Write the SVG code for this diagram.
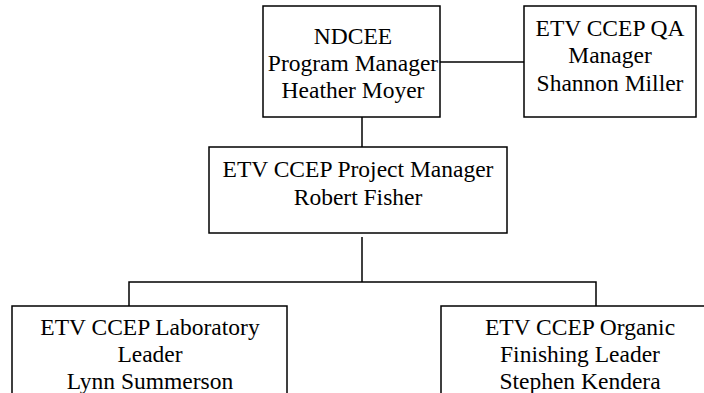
<svg xmlns="http://www.w3.org/2000/svg" width="704" height="393" viewBox="0 0 704 393">
<style>
.box{fill:#fff;stroke:#000;stroke-width:1.5}
.ln{fill:none;stroke:#000;stroke-width:1.5}
text{font-family:"Liberation Serif","Times New Roman",serif;font-size:23.5px;fill:#000;text-anchor:middle}
</style>
<rect width="704" height="393" fill="#fff"/>
<g id="connectors">
<line class="ln" x1="440" y1="62" x2="524" y2="62"/>
<line class="ln" x1="362" y1="117" x2="362" y2="147"/>
<line class="ln" x1="362" y1="237" x2="362" y2="282"/>
<polyline class="ln" points="129,306 129,282 596,282 596,306"/>
</g>
<g id="ndcee">
<rect class="box" x="263" y="6" width="177" height="111"/>
<text x="353" y="44">NDCEE</text>
<text x="353" y="71">Program Manager</text>
<text x="353" y="98">Heather Moyer</text>
</g>
<g id="qa">
<rect class="box" x="524" y="6" width="172" height="111"/>
<text x="610" y="36">ETV CCEP QA</text>
<text x="610" y="63">Manager</text>
<text x="610" y="91">Shannon Miller</text>
</g>
<g id="pm">
<rect class="box" x="209" y="147" width="298" height="86"/>
<text x="358" y="177">ETV CCEP Project Manager</text>
<text x="358" y="205">Robert Fisher</text>
</g>
<g id="lab">
<rect class="box" x="12" y="306" width="275" height="100"/>
<text x="150" y="335">ETV CCEP Laboratory</text>
<text x="150" y="362">Leader</text>
<text x="150" y="389">Lynn Summerson</text>
</g>
<g id="organic">
<rect class="box" x="441" y="306" width="280" height="100"/>
<text x="580" y="335">ETV CCEP Organic</text>
<text x="580" y="362">Finishing Leader</text>
<text x="580" y="389">Stephen Kendera</text>
</g>
</svg>
